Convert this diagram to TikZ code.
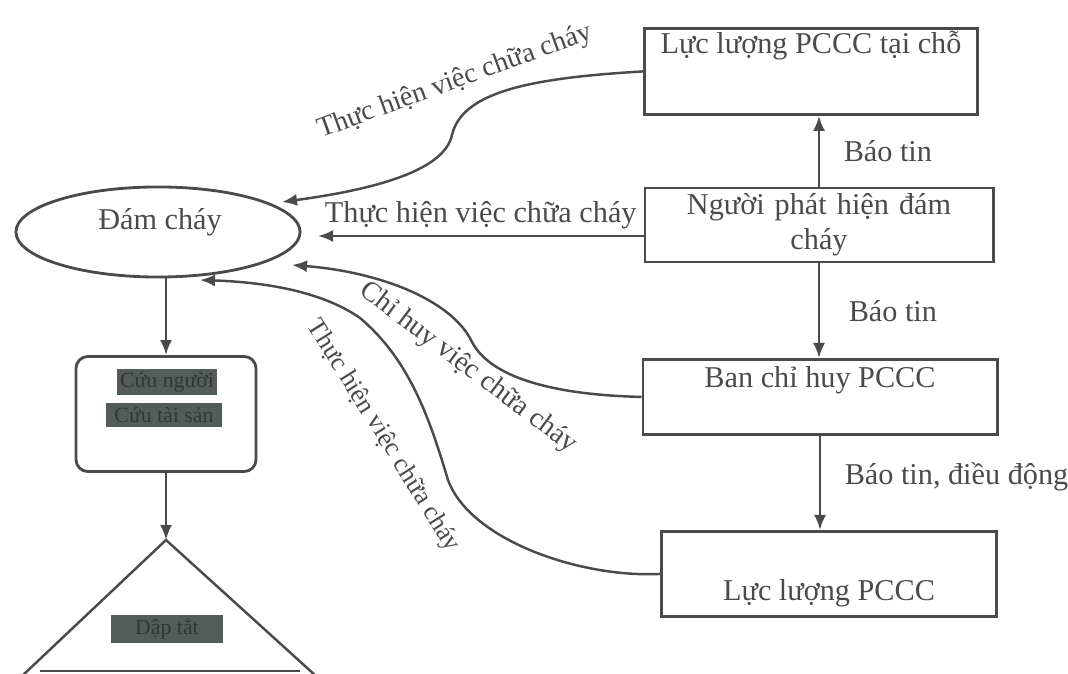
\documentclass[tikz,border=0pt]{standalone}
\usepackage{fontspec}
\setmainfont{Liberation Serif}
\usepackage{tikz}
\usetikzlibrary{positioning,arrows.meta,calc,shapes.geometric}
\definecolor{inkgray}{HTML}{4A4A4A}
\definecolor{hlgray}{HTML}{545C5A}

\begin{document}
\begin{tikzpicture}[
  x=0.01cm,y=-0.01cm,
  every node/.style={font=\fontsize{8.6}{10}\selectfont,text=inkgray},
  hop/.style={rectangle,draw=inkgray,line width=0.8pt,inner sep=0pt,align=center},
  nhan/.style={inner sep=1pt},
  toi/.style={rectangle,fill=hlgray,text=hlgray!60!black,inner sep=1pt,
              font=\fontsize{6.2}{7}\selectfont},
  arr/.style={-{Latex[length=1.5mm,width=1.2mm]},line width=0.7pt,inkgray},
  ln/.style={line width=0.7pt,inkgray}
]
\useasboundingbox (0,0) rectangle (1068,674);
% cot ben phai
\node[hop,minimum width=3.33cm,text height=0.25cm,text depth=0.61cm] (tai) at (811,27) [anchor=north] {Lực lượng PCCC tại chỗ};
\node[hop,minimum width=3.48cm,minimum height=0.74cm,text width=3.0cm] (ngh) at (819,225) {Người phát hiện đám\\ cháy};
\node[hop,minimum width=3.54cm,text height=0.28cm,text depth=0.47cm] (bch) at (820,358) [anchor=north] {Ban chỉ huy PCCC};
\node[hop,minimum width=3.35cm,text height=0.69cm,text depth=0.16cm] (llc) at (829,530) [anchor=north] {Lực lượng PCCC};
% cot ben trai
\node[ellipse,draw=inkgray,line width=0.8pt,minimum width=2.84cm,minimum height=0.9cm] (dc) at (158,232) {};
\node (dct) at (160,222) {Đám cháy};
\node[rectangle,rounded corners=0.12cm,draw=inkgray,line width=0.8pt,minimum width=1.8cm,minimum height=1.15cm] (hop) at (166,414) {};
\node[toi,minimum width=0.9cm,minimum height=0.19cm] (cn) at (167,382) {Cứu người};
\node[toi,minimum width=1.16cm,minimum height=0.24cm] (cts) at (164,415) {Cứu tài sản};
\coordinate (dinh) at (166,540);
\draw[ln] (22,676) -- (dinh) -- (316,676);
\draw[ln] (40,671) -- (300,671);
\node[toi,minimum width=1.11cm,minimum height=0.28cm] (dt) at (167,629) {Dập tắt};

\draw[arr] (ngh.north) -- (ngh.north |- tai.south) node[nhan,midway,right=0.2cm] (bt1) {Báo tin};
\draw[arr] (ngh.south) -- (ngh.south |- bch.north) node[nhan,midway,right=0.25cm] (bt2) {Báo tin};
\draw[arr] (bch.south) -- (bch.south |- llc.north) node[nhan,midway,right=0.2cm,yshift=0.06cm] (bt3) {Báo tin, điều động};

\draw[arr] (hop.north |- dc.south) -- (hop.north);
\draw[arr] (hop.south) -- (dinh);

% cac duong cong ve dam chay
\draw[arr] (tai.west) .. controls (530,78) and (462,92) .. (452,135)
  .. controls (444,172) and (370,190) .. ($(dc.center)+(124,-30)$);
\node[nhan,rotate=20,font=\fontsize{8}{9}\selectfont] (th1) at (455,82) {Thực hiện việc chữa cháy};

\draw[arr] ($(ngh.west)+(0,11)$) -- ($(dc.center)+(160,4)$)
  node[nhan,midway,above,yshift=0.02cm] (th2) {Thực hiện việc chữa cháy};

\draw[arr] (bch.west) .. controls (560,395) and (492,380) .. (472,342)
  .. controls (452,300) and (380,272) .. ($(dc.center)+(134,33)$);
\node[nhan,rotate=-37,font=\fontsize{8}{9}\selectfont] (ch) at (468,368) {Chỉ huy việc chữa cháy};

\draw[arr] (llc.west) .. controls (580,578) and (470,540) .. (448,480)
  .. controls (430,420) and (410,360) .. (360,318)
  .. controls (320,290) and (260,282) .. ($(dc.center)+(42,48)$);
\node[nhan,rotate=-58,font=\fontsize{7.4}{9}\selectfont] (th4) at (383,436) {Thực hiện việc chữa cháy};
\end{tikzpicture}
\end{document}
